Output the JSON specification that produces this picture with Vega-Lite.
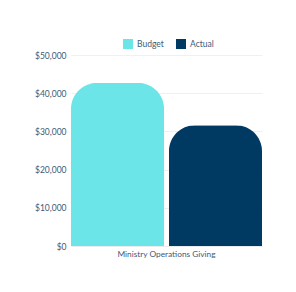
{
  "$schema": "https://vega.github.io/schema/vega-lite/v6.json",
  "autosize": {"type": "none"},
  "padding": {"left": 71, "top": 55, "right": 34, "bottom": 46},
  "width": 191,
  "height": 191,
  "background": "white",
  "config": {"view": {"stroke": null}, "font": "Lato"},
  "data": {"values": [
    {"category": "Ministry Operations Giving", "series": "Budget", "value": 42700},
    {"category": "Ministry Operations Giving", "series": "Actual", "value": 31600}
  ]},
  "mark": {"type": "bar", "cornerRadiusTopLeft": 26, "cornerRadiusTopRight": 26},
  "encoding": {
    "x": {"field": "category", "type": "nominal", "title": null,
      "scale": {"paddingInner": 0, "paddingOuter": 0},
      "axis": {"labelAngle": 0, "labelColor": "#3d5a78", "labelFontSize": 8.3, "ticks": false, "domain": true, "domainColor": "#e8ecef", "labelPadding": 3}},
    "xOffset": {"field": "series", "sort": ["Budget", "Actual"], "scale": {"paddingInner": 0.05, "paddingOuter": 0}},
    "y": {"field": "value", "type": "quantitative", "title": null,
      "scale": {"domain": [0, 50000]},
      "axis": {"values": [0, 10000, 20000, 30000, 40000, 50000], "format": "$,.0f", "labelColor": "#3d5a78", "labelFontSize": 8.5, "ticks": false, "domain": false, "gridColor": "#eef0f2", "labelPadding": 5}},
    "color": {"field": "series", "type": "nominal", "sort": ["Budget", "Actual"],
      "scale": {"domain": ["Budget", "Actual"], "range": ["#6ce5e8", "#003a63"]},
      "legend": {"title": null, "orient": "none", "direction": "horizontal", "legendX": 52, "legendY": -16, "symbolType": "square", "symbolSize": 100, "labelColor": "#3d5a78", "labelFontSize": 8.5, "columnPadding": 12, "symbolStrokeWidth": 0}}
  }
}
